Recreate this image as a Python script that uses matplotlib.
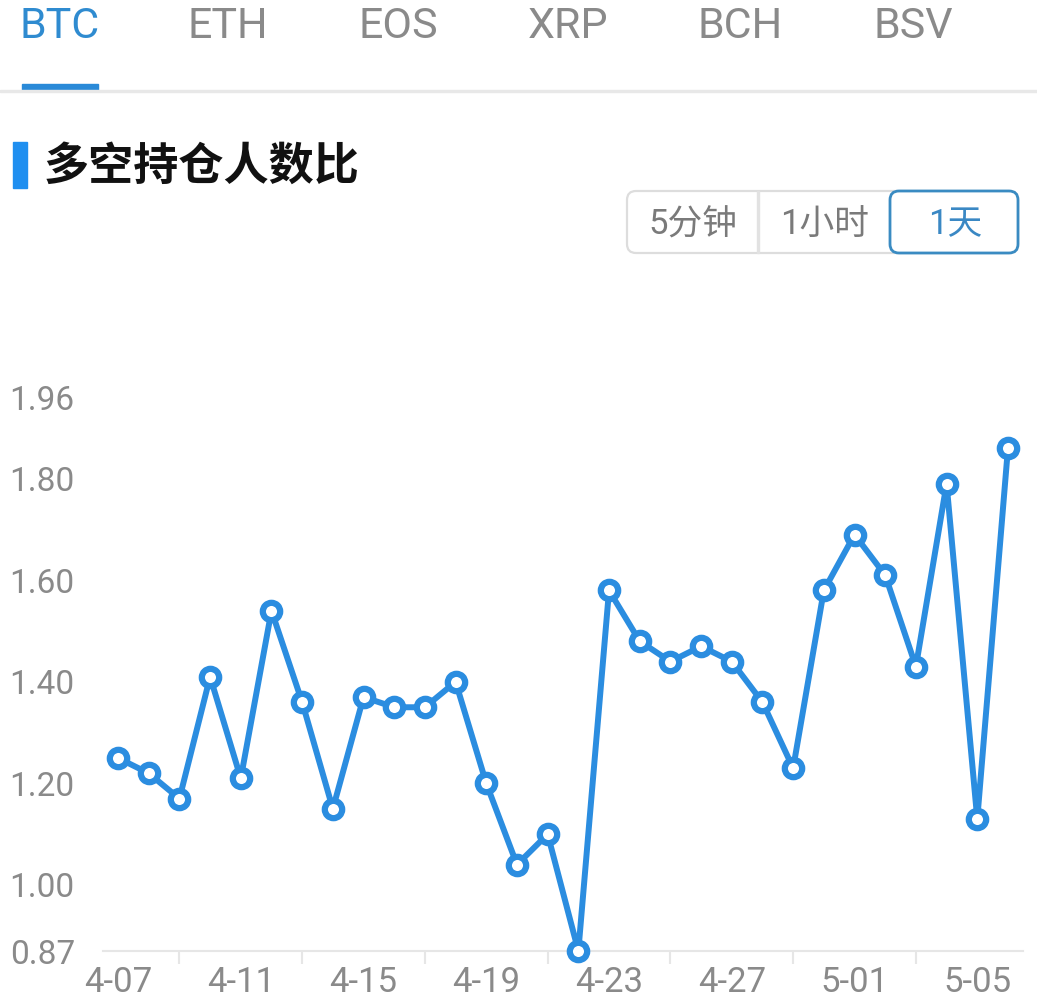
import matplotlib
matplotlib.use("Agg")
import matplotlib.pyplot as plt
from matplotlib.patches import Rectangle, FancyBboxPatch
from matplotlib.transforms import IdentityTransform

plt.rcParams['font.family'] = ['Roboto', 'Noto Sans CJK SC', 'DejaVu Sans']

# data
dates = ['4-07', '4-08', '4-09', '4-10', '4-11', '4-12', '4-13', '4-14', '4-15', '4-16',
         '4-17', '4-18', '4-19', '4-20', '4-21', '4-22', '4-23', '4-24', '4-25', '4-26',
         '4-27', '4-28', '4-29', '4-30', '5-01', '5-02', '5-03', '5-04', '5-05', '5-06']
ratio = [1.25, 1.22, 1.17, 1.41, 1.21, 1.54, 1.36, 1.15, 1.37, 1.35,
         1.35, 1.40, 1.20, 1.04, 1.10, 0.87, 1.58, 1.48, 1.44, 1.47,
         1.44, 1.36, 1.23, 1.58, 1.69, 1.61, 1.43, 1.79, 1.13, 1.86]
y_ticks = [0.87, 1.00, 1.20, 1.40, 1.60, 1.80, 1.96]
tabs = ['BTC', 'ETH', 'EOS', 'XRP', 'BCH', 'BSV']
periods = ['5分钟', '1小时', '1天']

W, H = 1037, 1007
BLUE = '#2b8de0'
GRAY = '#8a8a8a'

fig = plt.figure(figsize=(W / 100, H / 100), dpi=100)
ident = IdentityTransform()


def fy(y):
    # top-based pixel y -> display y
    return H - y


# ---- top tabs ----
tab_x = [60, 228, 398, 568, 740, 913]
for i, t in enumerate(tabs):
    fig.text(tab_x[i] / W, 1 - 27 / H, t, ha='center', va='center', fontsize=31,
             color='#2f8bd0' if i == 0 else GRAY)
fig.patches.append(Rectangle((22, fy(90)), 76, 6, transform=ident, color='#2a8ad8'))
fig.patches.append(Rectangle((0, fy(92)), W, 2, transform=ident, color='#e8e8e8'))

# ---- title ----
fig.patches.append(Rectangle((13, fy(188)), 14, 46, transform=ident, color='#1f8ff0'))
fig.text(44 / W, 1 - 167 / H, '多空持仓人数比', ha='left', va='center', fontsize=32.5,
         fontweight='bold', color='#111111', family=['Noto Sans CJK SC'])

# ---- period buttons ----
fig.patches.append(FancyBboxPatch((627, fy(253)), 391, 62, boxstyle='round,pad=0,rounding_size=9',
                                  transform=ident, fc='white', ec='#dddddd', lw=1.6))
fig.patches.append(Rectangle((757, fy(253)), 1.5, 62, transform=ident, color='#e2e2e2'))
fig.patches.append(FancyBboxPatch((890, fy(253)), 128, 62, boxstyle='round,pad=0,rounding_size=9',
                                  transform=ident, fc='white', ec='#3a8bc2', lw=2))
btn_x = [693, 825, 955]
for i, p in enumerate(periods):
    fig.text(btn_x[i] / W, 1 - 225 / H, p, ha='center', va='center', fontsize=25,
             color='#3a88c4' if i == 2 else '#7a7a7a',
             family=['Roboto', 'Noto Sans CJK SC'])

# ---- chart ----
ax = fig.add_axes([102.7 / W, (H - 951) / H, 920.6 / W, 553.5 / H])
x = list(range(len(dates)))
ax.plot(x, ratio, color=BLUE, lw=4.3, marker='o', ms=12.5, mew=4.5,
        mfc='white', mec=BLUE, clip_on=False, zorder=5)

ax.set_xlim(-0.5, len(dates) - 0.5)
ax.set_ylim(y_ticks[0], y_ticks[-1])

for s in ['top', 'right', 'left']:
    ax.spines[s].set_visible(False)
ax.spines['bottom'].set_color('#e6e6e6')
ax.spines['bottom'].set_linewidth(1.5)

ax.set_yticks(y_ticks)
ax.set_yticklabels(['%.2f' % v for v in y_ticks])
ax.tick_params(axis='y', length=0, pad=67, labelsize=24, labelcolor=GRAY)
for lab in ax.get_yticklabels():
    lab.set_horizontalalignment('left')

ax.set_xticks(x[::4])
ax.set_xticklabels(dates[::4])
ax.set_xticks(x[2::4], minor=True)
ax.tick_params(axis='x', which='major', length=0, pad=11, labelsize=25, labelcolor=GRAY)
ax.tick_params(axis='x', which='minor', length=9, width=1.5, color='#e6e6e6')

fig.savefig('out.png', dpi=100, facecolor='white')
